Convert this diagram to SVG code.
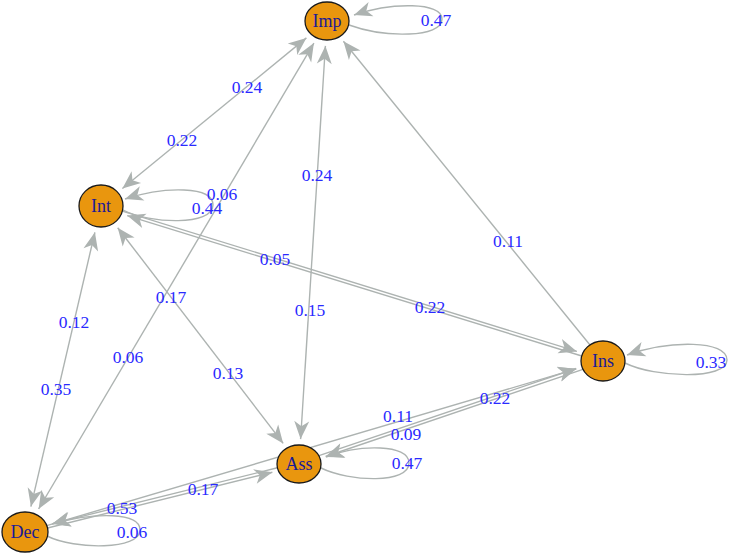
<svg xmlns="http://www.w3.org/2000/svg" width="729" height="553" viewBox="0 0 729 553">
<style>
.e{fill:none;stroke:#adb3b1;stroke-width:1.4}
.n ellipse{fill:#e9960e;stroke:#1a1a1a;stroke-width:1.3}
.n text{font-family:"Liberation Serif",serif;font-size:18px;fill:#1a1a96;text-anchor:middle}
.l{font-family:"Liberation Serif",serif;font-size:17.5px;fill:#2a2aff;text-anchor:middle}
</style>
<defs>
<marker id="ah" markerUnits="userSpaceOnUse" viewBox="-19 -8 19 16" refX="0" refY="0" markerWidth="19" markerHeight="16" orient="auto-start-reverse">
<path d="M0,0 L-18,-7.5 L-13,0 L-18,7.5 Z" fill="#adb3b1"/>
</marker>
</defs>
<g id="connectors">
<path class="e" d="M306.4,37.9 L122.4,188.5" marker-start="url(#ah)" marker-end="url(#ah)"/>
<path class="e" d="M313.9,43.1 L38.6,509" marker-start="url(#ah)" marker-end="url(#ah)"/>
<path class="e" d="M325.4,45.9 L300.6,439.1" marker-start="url(#ah)" marker-end="url(#ah)"/>
<path class="e" d="M590,345 L343.4,41.2" marker-end="url(#ah)"/>
<path class="e" d="M122.3,211.1 L576.9,351.4" marker-end="url(#ah)"/>
<path class="e" d="M581.8,356 L127.2,215.6" marker-end="url(#ah)"/>
<path class="e" d="M117.7,227.7 L283.2,443.4" marker-start="url(#ah)" marker-end="url(#ah)"/>
<path class="e" d="M94.9,232.3 L30.9,506.6" marker-start="url(#ah)" marker-end="url(#ah)"/>
<path class="e" d="M46.8,525.6 L576.3,368.9" marker-end="url(#ah)"/>
<path class="e" d="M319,455.7 L576.2,368.5" marker-end="url(#ah)"/>
<path class="e" d="M582.9,369.4 L325.6,456.5" marker-end="url(#ah)"/>
<path class="e" d="M47.5,528 L272.4,472.2" marker-end="url(#ah)"/>
<path class="e" d="M277.4,467.8 L52.6,523.6" marker-end="url(#ah)"/>
<path class="e" d="M349,25 C385,38 442,38 442,19 C442,2 392,2 354,15" marker-end="url(#ah)"/>
<path class="e" d="M123,210 C150,224 213,226 213,205 C213,186 165,186 125,199" marker-end="url(#ah)"/>
<path class="e" d="M625,363 C655,378 727,380 727,360 C727,340 670,340 627,355" marker-end="url(#ah)"/>
<path class="e" d="M321,468 C350,482 409,484 409,463 C409,444 360,444 326,457" marker-end="url(#ah)"/>
<path class="e" d="M47,536 C75,550 140,550 140,530 C140,512 95,512 52,524" marker-end="url(#ah)"/>
</g>
<g id="edge-labels">
<text class="l" x="436" y="26">0.47</text>
<text class="l" x="247" y="93">0.24</text>
<text class="l" x="182" y="146">0.22</text>
<text class="l" x="222" y="200">0.06</text>
<text class="l" x="207" y="214">0.44</text>
<text class="l" x="317" y="181">0.24</text>
<text class="l" x="508" y="247">0.11</text>
<text class="l" x="275" y="265">0.05</text>
<text class="l" x="171" y="303">0.17</text>
<text class="l" x="310" y="316">0.15</text>
<text class="l" x="430" y="313">0.22</text>
<text class="l" x="74" y="328">0.12</text>
<text class="l" x="128" y="363">0.06</text>
<text class="l" x="228" y="379">0.13</text>
<text class="l" x="711" y="368">0.33</text>
<text class="l" x="56" y="395">0.35</text>
<text class="l" x="398" y="422">0.11</text>
<text class="l" x="495" y="404">0.22</text>
<text class="l" x="406" y="440">0.09</text>
<text class="l" x="407" y="469">0.47</text>
<text class="l" x="122" y="514">0.53</text>
<text class="l" x="203" y="495">0.17</text>
<text class="l" x="132" y="538">0.06</text>
</g>
<g id="node-Imp" class="n"><ellipse cx="327" cy="21" rx="22" ry="19"/><text x="327" y="27">Imp</text></g>
<g id="node-Int" class="n"><ellipse cx="101" cy="206" rx="22" ry="21"/><text x="101" y="212">Int</text></g>
<g id="node-Ins" class="n"><ellipse cx="603" cy="361" rx="22" ry="20"/><text x="603" y="367">Ins</text></g>
<g id="node-Ass" class="n"><ellipse cx="299" cy="464" rx="22" ry="19"/><text x="299" y="470">Ass</text></g>
<g id="node-Dec" class="n"><ellipse cx="25" cy="532" rx="23" ry="20"/><text x="25" y="538">Dec</text></g>
</svg>
